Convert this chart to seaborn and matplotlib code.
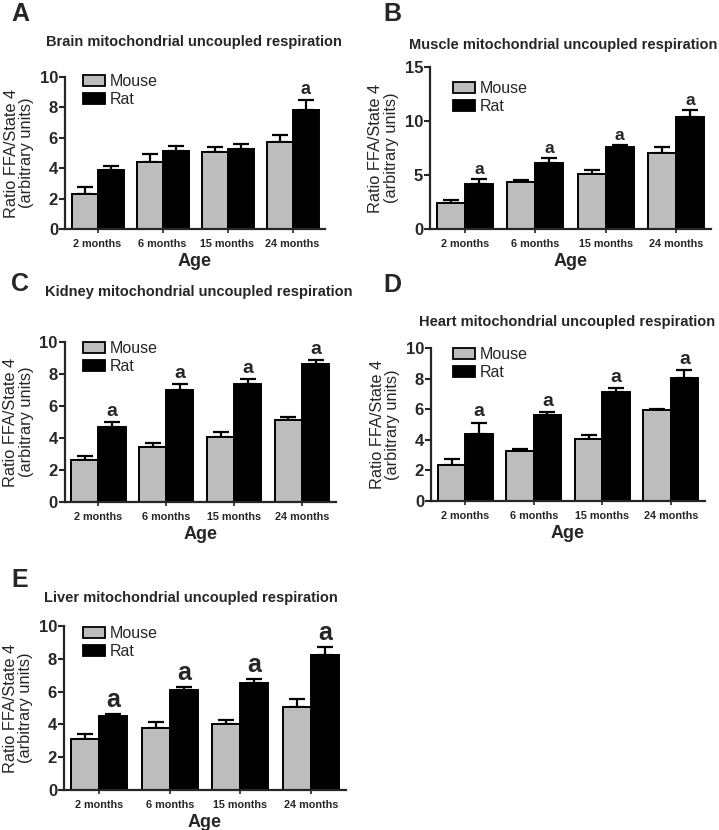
import numpy as np
import pandas as pd
import matplotlib
matplotlib.use("Agg")
import matplotlib.pyplot as plt
import seaborn as sns
from matplotlib.patches import Patch

sns.set_style("ticks")
plt.rcParams['font.family'] = ['Liberation Sans', 'DejaVu Sans']

ages = ["2 months", "6 months", "15 months", "24 months"]
species = ["Mouse", "Rat"]

titles = {
    "A": "Brain mitochondrial uncoupled respiration",
    "B": "Muscle mitochondrial uncoupled respiration",
    "C": "Kidney mitochondrial uncoupled respiration",
    "D": "Heart mitochondrial uncoupled respiration",
    "E": "Liver mitochondrial uncoupled respiration",
}

brain_mouse = [2.33, 4.43, 5.09, 5.75]
brain_mouse_err = [0.45, 0.48, 0.33, 0.46]
brain_rat = [3.88, 5.11, 5.29, 7.84]
brain_rat_err = [0.29, 0.35, 0.31, 0.62]
brain_sig = [False, False, False, True]

muscle_mouse = [2.41, 4.35, 5.12, 7.04]
muscle_mouse_err = [0.31, 0.19, 0.37, 0.52]
muscle_rat = [4.17, 6.11, 7.56, 10.4]
muscle_rat_err = [0.49, 0.43, 0.22, 0.65]
muscle_sig = [True, True, True, True]

kidney_mouse = [2.63, 3.46, 4.08, 5.15]
kidney_mouse_err = [0.25, 0.21, 0.31, 0.14]
kidney_rat = [4.67, 6.98, 7.40, 8.65]
kidney_rat_err = [0.35, 0.40, 0.29, 0.20]
kidney_sig = [True, True, True, True]

heart_mouse = [2.33, 3.26, 4.07, 5.93]
heart_mouse_err = [0.39, 0.15, 0.26, 0.09]
heart_rat = [4.37, 5.59, 7.15, 8.02]
heart_rat_err = [0.76, 0.24, 0.26, 0.55]
heart_sig = [True, True, True, True]

liver_mouse = [3.09, 3.80, 4.00, 5.04]
liver_mouse_err = [0.30, 0.33, 0.27, 0.53]
liver_rat = [4.49, 6.08, 6.52, 8.21]
liver_rat_err = [0.16, 0.20, 0.25, 0.49]
liver_sig = [True, True, True, True]

W, H = 719, 830
fig = plt.figure(figsize=(W / 100, H / 100), dpi=100)

def px_axes(left, right, top, bottom):
    return fig.add_axes([left / W, 1 - bottom / H, (right - left) / W, (bottom - top) / H])

panels = [
    ("A", brain_mouse, brain_mouse_err, brain_rat, brain_rat_err, brain_sig, (65, 325, 77, 229), 10, 2, 74, 13, 42, 194, (11, 14)),
    ("B", muscle_mouse, muscle_mouse_err, muscle_rat, muscle_rat_err, muscle_sig, (430, 711, 67, 229), 15, 5, 81, 12.5, 45, 563, (383, 14)),
    ("C", kidney_mouse, kidney_mouse_err, kidney_rat, kidney_rat_err, kidney_sig, (64.5, 336, 342, 502), 10, 2, 341, 14, 292, 199, (11, 284)),
    ("D", heart_mouse, heart_mouse_err, heart_rat, heart_rat_err, heart_sig, (431, 705, 348, 501), 10, 2, 347, 14, 322, 567, (383, 285)),
    ("E", liver_mouse, liver_mouse_err, liver_rat, liver_rat_err, liver_sig, (64, 346, 626, 790), 10, 2, 626, 18, 598, 191, (11, 580)),
]

palette = {"Mouse": "#BDBDBD", "Rat": "#000000"}

for key, m, me, r, re_, sig, box, ymax, ystep, leg_top, asize, ty, tx, (lx, ly) in panels:
    left, right, top, bottom = box
    ax = px_axes(left, right, top, bottom)
    df = pd.DataFrame({
        "Age": ages * 2,
        "Species": ["Mouse"] * 4 + ["Rat"] * 4,
        "value": list(m) + list(r),
    })
    sns.barplot(data=df, x="Age", y="value", hue="Species", order=ages,
                hue_order=species, palette=palette, edgecolor="black",
                linewidth=1.4, width=0.8, errorbar=None, ax=ax, legend=False,
                zorder=2)
    errs = {"Mouse": me, "Rat": re_}
    for cont, sp in zip(ax.containers, species):
        xs = [b.get_x() + b.get_width() / 2 for b in cont]
        ys = [b.get_height() for b in cont]
        e = errs[sp]
        ax.errorbar(xs, ys, yerr=[np.zeros(len(e)), e], fmt="none",
                    ecolor="black", elinewidth=1.6, capsize=6, capthick=1.6,
                    zorder=1)
        if sp == "Rat":
            for x, y, ee, s in zip(xs, ys, e, sig):
                if s:
                    ax.annotate("a", xy=(x, y + ee), xytext=(0, 1.5),
                                textcoords="offset points", ha="center",
                                va="bottom", fontsize=asize, fontweight="bold")
    ax.set_xlim(-0.5, 3.5)
    ax.set_ylim(0, ymax)
    ax.set_yticks(np.arange(0, ymax + 0.01, ystep))
    ax.set_yticklabels([str(int(v)) for v in np.arange(0, ymax + 0.01, ystep)],
                       fontsize=12, fontweight="bold")
    ax.set_xticks(range(4))
    ax.set_xticklabels(ages, fontsize=7.8, fontweight="bold")
    ax.tick_params(axis="y", direction="out", length=4, width=1.5, pad=1)
    ax.tick_params(axis="x", direction="out", length=3, width=1.2, pad=4)
    for s in ["top", "right"]:
        ax.spines[s].set_visible(False)
    for s in ["left", "bottom"]:
        ax.spines[s].set_linewidth(1.6)
    ax.set_xlabel("Age", fontsize=13, fontweight="bold", labelpad=3)
    ax.set_ylabel("Ratio FFA/State 4\n(arbitrary units)", fontsize=11.8,
                  labelpad=4, linespacing=1.05)
    handles = [Patch(facecolor=palette[s], edgecolor="black", linewidth=1.3, label=s)
               for s in species]
    lx_frac = (83 - left) / (right - left) if key in "ACE" else (453 - left) / (right - left)
    ly_frac = (bottom - leg_top) / (bottom - top)
    ax.legend(handles=handles, loc="upper left", bbox_to_anchor=(lx_frac, ly_frac),
              frameon=False, fontsize=11.5, handlelength=1.35, handleheight=0.7,
              handletextpad=0.3, labelspacing=0.2, borderpad=0, borderaxespad=0)
    fig.text(tx / W, 1 - ty / H, titles[key], ha="center", va="center",
             fontsize=10.5, fontweight="bold")
    fig.text(lx / W, 1 - ly / H, key, ha="left", va="center", fontsize=18,
             fontweight="bold")

fig.savefig("out.png", dpi=100)
